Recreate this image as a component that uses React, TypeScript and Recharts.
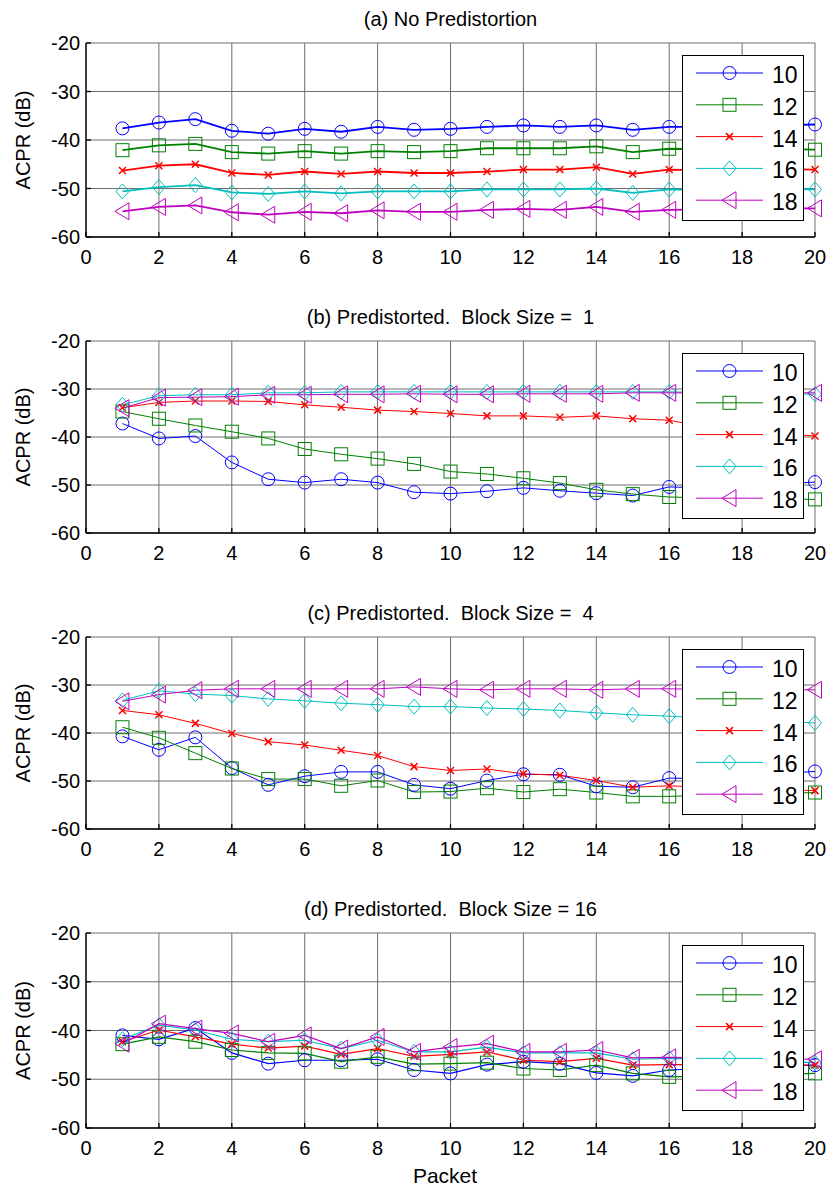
import React from 'react';
import { LineChart, Line, XAxis, YAxis, CartesianGrid, Legend } from 'recharts';

// ---------- data ----------
const packets = [1, 2, 3, 4, 5, 6, 7, 8, 9, 10, 11, 12, 13, 14, 15, 16, 17, 18, 19, 20];
const xTicks = [0, 2, 4, 6, 8, 10, 12, 14, 16, 18, 20];
const yTicks = [-60, -50, -40, -30, -20];
const seriesNames = ['10', '12', '14', '16', '18'];
const panelTitles = [
  '(a) No Predistortion',
  '(b) Predistorted.  Block Size =  1',
  '(c) Predistorted.  Block Size =  4',
  '(d) Predistorted.  Block Size = 16',
];

// (a) No predistortion
const a10 = [-37.6, -36.4, -35.7, -38.1, -38.7, -37.7, -38.3, -37.3, -37.9, -37.7, -37.3, -37.0, -37.3, -37.0, -37.9, -37.3, -37.3, -37.2, -37.0, -36.8];
const a12 = [-42.1, -41.1, -40.8, -42.5, -42.8, -42.3, -42.8, -42.3, -42.5, -42.3, -41.7, -41.7, -41.7, -41.3, -42.5, -41.8, -41.9, -42.0, -41.9, -42.0];
const a14 = [-46.3, -45.3, -45.0, -46.8, -47.2, -46.5, -47.0, -46.5, -46.8, -46.8, -46.5, -46.1, -46.1, -45.6, -47.0, -46.1, -46.2, -46.1, -46.0, -46.1];
const a16 = [-50.6, -49.7, -49.3, -50.8, -51.1, -50.6, -51.0, -50.6, -50.6, -50.6, -50.2, -50.2, -50.2, -50.0, -50.9, -50.2, -50.3, -50.2, -50.2, -50.2];
const a18 = [-54.7, -53.8, -53.5, -54.9, -55.4, -54.8, -55.1, -54.5, -54.8, -54.8, -54.4, -54.2, -54.4, -53.8, -54.8, -54.4, -54.3, -54.2, -54.1, -54.1];

// (b) Block size 1
const b10 = [-37.2, -40.3, -39.8, -45.3, -48.8, -49.5, -48.8, -49.5, -51.5, -51.8, -51.3, -50.6, -51.2, -51.7, -52.2, -50.4, -50.6, -50.2, -49.8, -49.4];
const b12 = [-34.7, -36.2, -37.6, -38.9, -40.3, -42.5, -43.6, -44.5, -45.6, -47.2, -47.7, -48.6, -49.6, -51.0, -51.9, -52.5, -52.7, -52.8, -52.9, -53.0];
const b14 = [-33.9, -32.8, -32.5, -32.5, -32.6, -33.3, -33.8, -34.4, -34.7, -35.1, -35.6, -35.6, -35.9, -35.6, -36.2, -36.5, -38.0, -38.6, -39.2, -39.8];
const b16 = [-33.3, -31.4, -31.2, -31.2, -30.8, -30.8, -30.6, -30.6, -30.6, -30.6, -30.6, -30.6, -30.6, -30.6, -30.6, -30.6, -30.7, -30.8, -30.9, -31.1];
const b18 = [-34.0, -31.8, -31.7, -31.6, -31.2, -31.2, -31.1, -31.1, -31.0, -31.1, -31.1, -31.0, -31.0, -31.0, -30.8, -30.8, -30.8, -30.8, -30.8, -30.8];

// (c) Block size 4
const c10 = [-40.7, -43.5, -40.9, -47.3, -50.8, -49.0, -48.1, -48.1, -50.8, -51.6, -49.9, -48.6, -48.7, -51.1, -51.3, -49.4, -49.5, -49.0, -48.5, -48.0];
const c12 = [-38.8, -41.0, -44.2, -47.4, -49.6, -49.6, -51.0, -49.9, -52.3, -52.2, -51.5, -52.3, -51.7, -52.4, -53.2, -53.2, -53.0, -52.8, -52.6, -52.4];
const c14 = [-35.3, -36.2, -38.0, -40.1, -41.8, -42.5, -43.6, -44.7, -47.0, -47.8, -47.5, -48.5, -48.8, -49.9, -51.3, -51.0, -51.3, -51.5, -51.8, -52.0];
const c16 = [-33.2, -31.2, -31.9, -32.2, -32.9, -33.3, -33.8, -34.1, -34.5, -34.5, -34.8, -35.0, -35.3, -35.8, -36.2, -36.5, -36.9, -37.2, -37.6, -37.9];
const c18 = [-33.4, -32.0, -31.1, -30.8, -30.8, -30.8, -30.8, -30.8, -30.4, -30.8, -31.0, -30.8, -30.8, -31.0, -30.8, -30.8, -30.9, -30.9, -31.0, -31.0];

// (d) Block size 16
const d10 = [-41.0, -41.8, -39.5, -44.6, -46.8, -46.1, -46.1, -45.9, -48.1, -48.8, -47.0, -46.4, -46.8, -48.7, -49.3, -48.1, -47.8, -47.5, -47.3, -47.1];
const d12 = [-42.8, -41.3, -42.3, -44.0, -44.6, -44.7, -46.4, -45.4, -46.9, -46.8, -46.6, -47.8, -48.1, -47.1, -48.8, -49.5, -49.3, -49.1, -49.0, -48.8];
const d14 = [-42.3, -39.9, -41.3, -42.8, -43.6, -43.2, -44.9, -43.7, -45.3, -44.9, -44.4, -46.1, -46.4, -45.7, -47.1, -47.0, -47.0, -47.0, -47.1, -47.1];
const d16 = [-41.8, -38.9, -39.9, -41.8, -42.3, -42.0, -43.7, -42.0, -44.4, -44.4, -43.4, -44.6, -44.6, -44.6, -45.9, -45.7, -46.0, -46.2, -46.4, -46.6];
const d18 = [-42.7, -38.6, -39.6, -40.6, -42.3, -41.0, -43.7, -41.3, -44.4, -43.4, -42.7, -44.4, -44.4, -44.0, -45.6, -45.5, -45.6, -45.7, -45.8, -45.9];

const panelSeries = [
  [a10, a12, a14, a16, a18],
  [b10, b12, b14, b16, b18],
  [c10, c12, c14, c16, c18],
  [d10, d12, d14, d16, d18],
];

// ---------- styling ----------
const seriesColors = ['#0000FF', '#008000', '#FF0000', '#00BFBF', '#BF00BF'];
const seriesShapes = ['circle', 'square', 'x', 'diamond', 'triangle'];
const lineWidths = [1.8, 1, 1, 1.2];

const FONT = '"Liberation Sans", Arial, Helvetica, sans-serif';
const W = 829;
const PLOT_LEFT = 86;
const PLOT_RIGHT = 815;
const YAXIS_W = 50;
const XAXIS_H = 30;
const plotTops = [43, 341, 637, 933];
const plotBottoms = [237, 533, 829, 1128];
const chartTops = [0, 298, 594, 890];
const chartHeights = [297, 296, 296, 300];

function Marker({ shape, cx, cy, color }: { shape: string; cx: number; cy: number; color: string }) {
  if (cx == null || cy == null) return <g />;
  switch (shape) {
    case 'circle':
      return <circle cx={cx} cy={cy} r={6.5} fill="none" stroke={color} strokeWidth={1} />;
    case 'square':
      return <rect x={cx - 6.5} y={cy - 6.5} width={13} height={13} fill="none" stroke={color} strokeWidth={1} />;
    case 'x':
      return (
        <path
          d={`M${cx - 3.5},${cy - 3.5}L${cx + 3.5},${cy + 3.5}M${cx - 3.5},${cy + 3.5}L${cx + 3.5},${cy - 3.5}`}
          stroke={color}
          strokeWidth={1.5}
          fill="none"
        />
      );
    case 'diamond':
      return (
        <path
          d={`M${cx},${cy - 7.5}L${cx + 6.5},${cy}L${cx},${cy + 7.5}L${cx - 6.5},${cy}Z`}
          fill="none"
          stroke={color}
          strokeWidth={1}
        />
      );
    default:
      return (
        <path
          d={`M${cx - 7.5},${cy}L${cx + 6.5},${cy - 8.5}L${cx + 6.5},${cy + 8.5}Z`}
          fill="none"
          stroke={color}
          strokeWidth={1}
        />
      );
  }
}

function LegendBox() {
  return (
    <div
      style={{
        width: 122,
        height: 166,
        border: '1.5px solid #000',
        background: '#fff',
        boxSizing: 'border-box',
      }}
    >
      <svg width={119} height={163} style={{ display: 'block' }}>
        {seriesNames.map((n, i) => {
          const y = 17 + i * 31.8;
          return (
            <g key={n}>
              <line x1={13} x2={80} y1={y} y2={y} stroke={seriesColors[i]} strokeWidth={1} />
              <Marker shape={seriesShapes[i]} cx={46.5} cy={y} color={seriesColors[i]} />
              <text x={89} y={y + 10} fontSize={23} fontFamily={FONT} fill="#000">
                {n}
              </text>
            </g>
          );
        })}
      </svg>
    </div>
  );
}

function Panel({ index }: { index: number }) {
  const series = panelSeries[index];
  const data = packets.map((p, i) => {
    const row: Record<string, number> = { packet: p };
    seriesNames.forEach((n, k) => {
      row['s' + n] = series[k][i];
    });
    return row;
  });
  const chartTop = chartTops[index];
  const h = chartHeights[index];
  const mTop = plotTops[index] - chartTop;
  const mBottom = h - (plotBottoms[index] - chartTop) - XAXIS_H;
  const tickStyle = { fill: '#000', fontSize: 20, fontFamily: FONT };
  return (
    <div style={{ position: 'absolute', left: 0, top: chartTop, width: W, height: h }}>
      <LineChart
        width={W}
        height={h}
        data={data}
        margin={{ top: mTop, bottom: mBottom, left: PLOT_LEFT - YAXIS_W, right: W - PLOT_RIGHT }}
      >
        <CartesianGrid stroke="#6e6e6e" strokeWidth={1} />
        <XAxis
          dataKey="packet"
          type="number"
          domain={[0, 20]}
          ticks={xTicks}
          interval={0}
          height={XAXIS_H}
          tick={tickStyle}
          tickSize={-5}
          tickMargin={18}
          axisLine={{ stroke: '#000', strokeWidth: 1.3 }}
          tickLine={{ stroke: '#000', strokeWidth: 1.3 }}
        />
        <XAxis
          xAxisId="top"
          orientation="top"
          dataKey="packet"
          type="number"
          domain={[0, 20]}
          ticks={xTicks}
          interval={0}
          height={0}
          tick={false}
          tickSize={-5}
          axisLine={{ stroke: '#000', strokeWidth: 1.3 }}
          tickLine={{ stroke: '#000', strokeWidth: 1.3 }}
        />
        <YAxis
          type="number"
          domain={[-60, -20]}
          ticks={yTicks}
          interval={0}
          width={YAXIS_W}
          tick={tickStyle}
          tickSize={-5}
          tickMargin={11}
          axisLine={{ stroke: '#000', strokeWidth: 1.3 }}
          tickLine={{ stroke: '#000', strokeWidth: 1.3 }}
          label={(props: any) => {
            const vb = props.viewBox || {};
            const cx = 23;
            const cy = (vb.y || 0) + (vb.height || 0) / 2;
            return (
              <text
                x={cx}
                y={cy}
                transform={`rotate(-90 ${cx} ${cy})`}
                textAnchor="middle"
                dominantBaseline="central"
                fontSize={20}
                fontFamily={FONT}
                fill="#000"
              >
                ACPR (dB)
              </text>
            );
          }}
        />
        <YAxis
          yAxisId="right"
          orientation="right"
          type="number"
          domain={[-60, -20]}
          ticks={yTicks}
          interval={0}
          width={0}
          tick={false}
          tickSize={-5}
          axisLine={{ stroke: '#000', strokeWidth: 1.3 }}
          tickLine={{ stroke: '#000', strokeWidth: 1.3 }}
        />
        {seriesNames.map((n, k) => (
          <Line
            key={n}
            type="linear"
            dataKey={'s' + n}
            name={n}
            stroke={seriesColors[k]}
            strokeWidth={lineWidths[index]}
            isAnimationActive={false}
            activeDot={false}
            dot={(p: any) => (
              <Marker key={`m-${n}-${p.index}`} shape={seriesShapes[k]} cx={p.cx} cy={p.cy} color={seriesColors[k]} />
            )}
          />
        ))}
        <Legend
          layout="horizontal"
          verticalAlign="middle"
          align="center"
          content={() => <LegendBox />}
          wrapperStyle={{ left: 682, top: mTop + 12, width: 122, height: 166 }}
        />
      </LineChart>
      <div
        style={{
          position: 'absolute',
          left: PLOT_LEFT,
          width: PLOT_RIGHT - PLOT_LEFT,
          top: mTop - 35,
          textAlign: 'center',
          fontFamily: FONT,
          fontSize: 20,
          lineHeight: '22px',
          whiteSpace: 'pre',
          color: '#000',
        }}
      >
        {panelTitles[index]}
      </div>
    </div>
  );
}

export default function App() {
  return (
    <div style={{ position: 'absolute', left: 0, top: 0, width: W, height: 1190, background: '#fff', overflow: 'hidden' }}>
      {[0, 1, 2, 3].map((i) => (
        <Panel key={i} index={i} />
      ))}
      <div
        style={{
          position: 'absolute',
          left: 345,
          width: 200,
          top: 1164,
          textAlign: 'center',
          fontFamily: FONT,
          fontSize: 21,
          lineHeight: '24px',
          color: '#000',
        }}
      >
        Packet
      </div>
    </div>
  );
}
